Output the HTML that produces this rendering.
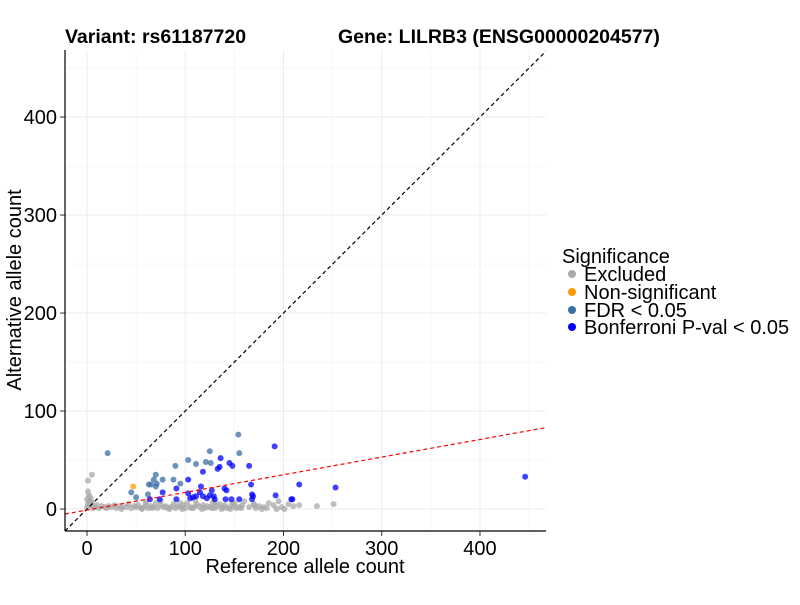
<!DOCTYPE html>
<html><head><meta charset="utf-8"><style>
body{margin:0;background:#fff;font-family:"Liberation Sans",Arial,sans-serif}
</style></head><body>
<svg id="chart" width="800" height="600" xmlns="http://www.w3.org/2000/svg" font-family="Liberation Sans, Arial, sans-serif"></svg>
<script>
const greyX=[0,1,2,3,4,5,6,8,10,12,15,18,20,22,25,28,30,33,36,40,42,45,48,50,52,55,58,60,62,65,68,70,72,75,78,80,82,85,88,90,92,95,98,100,102,105,108,110,112,115,118,120,122,125,128,130,132,135,138,140,142,145,148,150,152,155,158,160,165,170,172,175,180,185,190,195,198,201,205,210,216,234,251,1,5,0,2,3,1,4,60,75,95,110,130,150,170,35,56,66,84,97,106,117,127,137,146,157,178,183,193];
const greyY=[2,5,8,12,3,6,1,2,4,1,3,2,1,3,2,4,1,3,2,2,5,1,3,2,4,1,2,5,1,3,2,6,1,4,2,3,1,2,5,1,3,2,4,1,6,2,1,3,5,2,4,1,3,2,6,1,3,5,2,4,1,2,6,3,1,2,4,8,2,5,1,3,2,6,4,8,2,0,5,3,4,3,5,29,35,10,14,6,18,9,7,8,6,9,7,6,4,0,0,1,0,0,1,0,1,0,0,1,0,1,0];
const orangeX=[47];
const orangeY=[23];
const fdrX=[21,154,125,155,103,111,121,126,90,70,68,77,88,71,63,65,70,45,62,50,95];
const fdrY=[57,76,59,57,50,46,48,47,44,35,30,30,30,26,25,25,23,17,15,12,26];
const bonfX=[191,136,145,148,135,133,118,165,103,167,216,91,116,140,142,127,77,103,115,125,129,192,168,169,105,108,111,118,122,130,91,74,64,141,147,155,168,208,446,253,209];
const bonfY=[64,52,47,44,43,41,38,44,30,25,25,21,23,21,19,19,17,16,17,14,13,14,15,13,11,12,13,13,11,10,10,10,10,10,10,10,10,10,33,22,10];
const xTicks=[0,100,200,300,400];
const yTicks=[0,100,200,300,400];
const L=65,R=546,T=50,B=531,xmin=-22.4,xmax=467.2,ymin=-22.4,ymax=468.4;
const sx=v=>L+(v-xmin)/(xmax-xmin)*(R-L);
const sy=v=>B-(v-ymin)/(ymax-ymin)*(B-T);
const svg=document.getElementById('chart');
const NS='http://www.w3.org/2000/svg';
function mk(t,a,p){const e=document.createElementNS(NS,t);for(const k in a)e.setAttribute(k,a[k]);(p||svg).appendChild(e);return e;}
const clip=mk('clipPath',{id:'pc'});mk('rect',{x:L,y:T,width:R-L,height:B-T},clip);
[50,150,250,350,450].forEach(v=>{
 const g1=mk('line',{x1:sx(v),x2:sx(v),y1:T,y2:B,stroke:'#f2f2f2','stroke-width':0.6});
 
 
 const g2=mk('line',{x1:L,x2:R,y1:sy(v),y2:sy(v),stroke:'#f2f2f2','stroke-width':0.6});
 
 
});
xTicks.forEach(v=>{
 const g=mk('line',{x1:sx(v),x2:sx(v),y1:T,y2:B,stroke:'#ebebeb','stroke-width':1});
 
 
 const t=mk('line',{x1:sx(v),x2:sx(v),y1:B,y2:B+5,stroke:'#333'});
 
 
 const l=mk('text',{x:sx(v),y:B+24,'text-anchor':'middle','font-size':20,fill:'#000'});l.textContent=v;
 
 
});
yTicks.forEach(v=>{
 const g=mk('line',{x1:L,x2:R,y1:sy(v),y2:sy(v),stroke:'#ebebeb','stroke-width':1});
 
 
 const t=mk('line',{x1:L-5,x2:L,y1:sy(v),y2:sy(v),stroke:'#333'});
 
 
 const l=mk('text',{x:L-8,y:sy(v)+7,'text-anchor':'end','font-size':20,fill:'#000'});l.textContent=v;
 
 
});
function pts(xs,ys,col,name){xs.forEach((x,i)=>{const c=mk('circle',{cx:sx(x),cy:sy(ys[i]),r:3,fill:col,'fill-opacity':0.75,'clip-path':'url(#pc)'});
 
 });}
pts(greyX,greyY,'#aaaaaa','point-excluded');
pts(orangeX,orangeY,'#ff9900','point-non-significant');
pts(fdrX,fdrY,'#3b6fa8','point-fdr');
pts(bonfX,bonfY,'#0000ff','point-bonferroni');
const d1=mk('line',{x1:sx(xmin),y1:sy(xmin),x2:sx(xmax),y2:sy(xmax),stroke:'#000','stroke-dasharray':'4,3','stroke-width':1.2,'clip-path':'url(#pc)'});


const d2=mk('line',{x1:sx(xmin),y1:sy(0.18*xmin-1),x2:sx(xmax),y2:sy(0.18*xmax-1),stroke:'#ff0000','stroke-dasharray':'4,3','stroke-width':1.2,'clip-path':'url(#pc)'});


</script>
<svg style="position:absolute;left:0;top:0" width="800" height="600" xmlns="http://www.w3.org/2000/svg" font-family="Liberation Sans, Arial, sans-serif">
<line x1="65" y1="50" x2="65" y2="531" stroke="#000" stroke-width="1.2"/>
<line x1="65" y1="531" x2="546" y2="531" stroke="#000" stroke-width="1.2"/>
<text x="65" y="43" font-size="19.5" font-weight="bold">Variant: rs61187720</text>
<text x="338" y="43" font-size="19.5" font-weight="bold">Gene: LILRB3 (ENSG00000204577)</text>
<text x="305" y="573" font-size="20" text-anchor="middle">Reference allele count</text>
<text transform="translate(21,290) rotate(-90)" font-size="20" text-anchor="middle">Alternative allele count</text>
<g font-size="20">
<text x="562" y="263">Significance</text>
<g><circle cx="572" cy="274" r="4" fill="#aaaaaa"/><text x="584" y="281">Excluded</text></g>
<g><circle cx="572" cy="292" r="4" fill="#ff9900"/><text x="584" y="299">Non-significant</text></g>
<g><circle cx="572" cy="310" r="4" fill="#3b6fa8"/><text x="584" y="317">FDR &lt; 0.05</text></g>
<g><circle cx="572" cy="327" r="4" fill="#0000ff"/><text x="584" y="334">Bonferroni P-val &lt; 0.05</text></g>
</g>
</svg>
</body></html>
